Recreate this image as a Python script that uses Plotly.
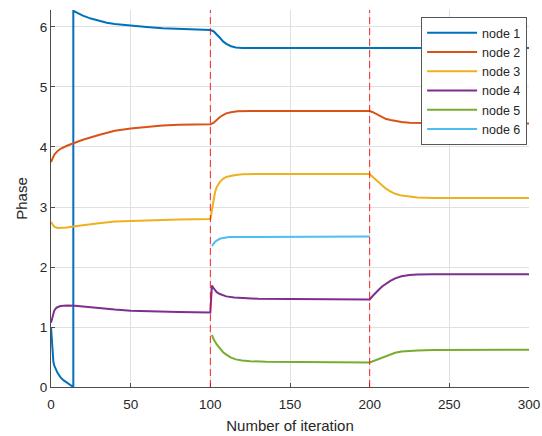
import math
import plotly.graph_objects as go

# ---- data ----
node1_x = [0, 0.5, 1, 1.5, 2, 3, 4, 5, 6, 8, 10, 12, 14,
           14, 17, 20, 25, 30, 35, 40, 50, 60, 70, 80, 90, 100,
           102, 104, 106, 108, 110, 113, 116, 120, 130, 200, 300]
node1_y = [1.0, 0.8, 0.55, 0.42, 0.36, 0.29, 0.24, 0.2, 0.16, 0.11, 0.07, 0.03, 0.0,
           6.27, 6.23, 6.19, 6.14, 6.1, 6.07, 6.05, 6.02, 6.0, 5.98, 5.97, 5.96, 5.95,
           5.93, 5.88, 5.82, 5.76, 5.72, 5.68, 5.66, 5.65, 5.65, 5.65, 5.65]

node2_x = [0, 1, 2, 4, 6, 10, 15, 20, 30, 40, 50, 60, 70, 80, 100,
           102, 104, 106, 108, 110, 113, 117, 125, 200,
           202, 204, 206, 208, 210, 213, 216, 220, 225, 230, 240, 250, 300]
node2_y = [3.75, 3.82, 3.87, 3.93, 3.97, 4.02, 4.07, 4.12, 4.2, 4.27, 4.31, 4.34, 4.36, 4.37, 4.38,
           4.4, 4.45, 4.5, 4.53, 4.56, 4.58, 4.595, 4.6, 4.6,
           4.58, 4.55, 4.52, 4.49, 4.47, 4.45, 4.43, 4.415, 4.405, 4.4, 4.395, 4.39, 4.39]

node3_x = [0, 1, 2, 4, 6, 10, 15, 20, 30, 40, 50, 60, 80, 100,
           100.5, 101, 102, 103, 104, 106, 108, 110, 115, 120, 130, 200,
           202, 204, 206, 208, 210, 213, 216, 220, 225, 230, 240, 300]
node3_y = [2.75, 2.7, 2.67, 2.65, 2.65, 2.66, 2.68, 2.7, 2.73, 2.76, 2.77, 2.78, 2.79, 2.8,
           2.85, 2.95, 3.12, 3.25, 3.33, 3.42, 3.47, 3.5, 3.53, 3.545, 3.55, 3.55,
           3.5, 3.45, 3.4, 3.35, 3.31, 3.26, 3.22, 3.19, 3.17, 3.16, 3.15, 3.15]

node4_x = [0, 0.5, 1, 2, 3, 4, 6, 10, 15, 20, 30, 40, 50, 60, 80, 100,
           100.5, 101, 102, 104, 106, 108, 110, 115, 120, 130, 150, 200,
           202, 204, 206, 208, 210, 213, 216, 220, 225, 230, 240, 300]
node4_y = [1.07, 1.12, 1.2, 1.27, 1.31, 1.33, 1.35, 1.36, 1.355, 1.34, 1.31, 1.29, 1.27, 1.26, 1.25, 1.24,
           1.45, 1.69, 1.65, 1.58, 1.55, 1.53, 1.51, 1.49, 1.48, 1.47, 1.465, 1.46,
           1.52, 1.58, 1.63, 1.68, 1.72, 1.77, 1.81, 1.845, 1.865, 1.875, 1.88, 1.88]

node5_x = [101, 102, 104, 106, 108, 110, 113, 116, 120, 125, 135, 200,
           202, 205, 208, 212, 216, 220, 225, 230, 240, 300]
node5_y = [0.87, 0.8, 0.71, 0.64, 0.58, 0.54, 0.49, 0.46, 0.44, 0.43, 0.42, 0.41,
           0.43, 0.47, 0.5, 0.54, 0.57, 0.59, 0.6, 0.61, 0.615, 0.62]

node6_x = [101, 102, 103, 104, 106, 108, 112, 200]
node6_y = [2.35, 2.39, 2.42, 2.44, 2.47, 2.485, 2.5, 2.51]

switch_iterations = [100, 200]

series = [
    ("node 1", node1_x, node1_y, "#0072BD"),
    ("node 2", node2_x, node2_y, "#D95319"),
    ("node 3", node3_x, node3_y, "#EDB120"),
    ("node 4", node4_x, node4_y, "#7E2F8E"),
    ("node 5", node5_x, node5_y, "#77AC30"),
    ("node 6", node6_x, node6_y, "#4DBEEE"),
]

fig = go.Figure()
for name, xs, ys, col in series:
    fig.add_trace(go.Scatter(x=xs, y=ys, mode="lines", name=name,
                             line=dict(color=col, width=2)))

for xv in switch_iterations:
    fig.add_vline(x=xv, line=dict(color="rgba(255,0,0,0.85)", width=1, dash="7px,4px"))

font_family = "Liberation Sans, Arial, sans-serif"
fig.update_layout(
    width=542, height=436,
    margin=dict(l=51, r=13, t=10, b=49),
    paper_bgcolor="white", plot_bgcolor="white",
    font=dict(family=font_family, color="#262626"),
    legend=dict(x=0.996, y=0.981, xanchor="right", yanchor="top",
                bgcolor="white", bordercolor="#555555", borderwidth=1,
                font=dict(size=12.5, color="#262626"),
                itemwidth=50, tracegroupgap=0),
    showlegend=True,
)
fig.update_xaxes(range=[0, 300], tickvals=[0, 50, 100, 150, 200, 250, 300],
                 automargin=False,
                 showgrid=True, gridcolor="#e0e0e0", gridwidth=1,
                 showline=True, linecolor="#4d4d4d", linewidth=1,
                 ticks="inside", ticklen=4, tickcolor="#4d4d4d",
                 tickfont=dict(size=13.5), zeroline=False, ticklabelstandoff=5,
                 title=dict(text="Number of iteration", font=dict(size=15), standoff=9))
fig.update_yaxes(range=[0, 2 * math.pi], tickvals=[0, 1, 2, 3, 4, 5, 6],
                 automargin=False,
                 showgrid=True, gridcolor="#e0e0e0", gridwidth=1,
                 showline=True, linecolor="#4d4d4d", linewidth=1,
                 ticks="inside", ticklen=4, tickcolor="#4d4d4d",
                 tickfont=dict(size=13.5), zeroline=False,
                 title=dict(text="Phase", font=dict(size=15), standoff=8))

# remove the default page margin so the figure fills the window exactly
fig.write_html("out.html", config={"displayModeBar": False},
               post_script="document.body.style.margin='0';")
